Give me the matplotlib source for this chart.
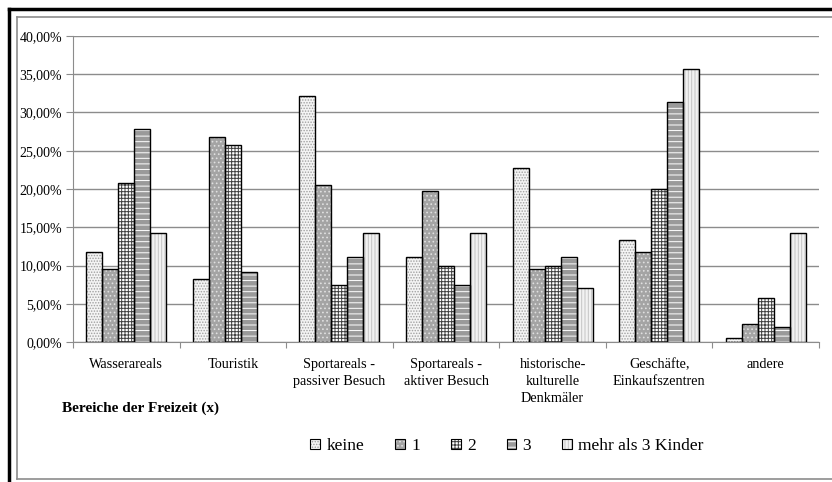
import numpy as np
import matplotlib
matplotlib.use("Agg")
import matplotlib.pyplot as plt
from matplotlib.patches import Patch
from matplotlib.lines import Line2D
from matplotlib.legend_handler import HandlerTuple
from matplotlib.ticker import FuncFormatter

plt.rcParams['font.family'] = ['Liberation Serif', 'DejaVu Serif']
plt.rcParams['hatch.linewidth'] = 0.7

categories = ["Wasserareals", "Touristik", "Sportareals -\npassiver Besuch",
              "Sportareals -\naktiver Besuch", "historische-\nkulturelle\nDenkmäler",
              "Geschäfte,\nEinkaufszentren", "andere"]
series = ["keine", "1", "2", "3", "mehr als 3 Kinder"]

keine = [11.7, 8.3, 32.2, 11.1, 22.7, 13.3, 0.5]
eins = [9.5, 26.8, 20.5, 19.7, 9.5, 11.8, 2.4]
zwei = [20.8, 25.8, 7.5, 10.0, 10.0, 20.0, 5.8]
drei = [27.8, 9.2, 11.1, 7.4, 11.1, 31.4, 1.9]
mehr = [14.3, np.nan, 14.3, 14.3, 7.1, 35.7, 14.3]
values = [keine, eins, zwei, drei, mehr]

# face colour, hatch, hatch colour
styles = [("#f4f4f4", "......", "#a0a0a0"),
          ("#a4a4a4", "....", "#e0e0e0"),
          ("#ffffff", "+++++", "#404040"),
          ("#9a9a9a", "---", "#ffffff"),
          ("#f2f2f2", "|||||", "#c4c4c4")]

fig = plt.figure(figsize=(8.32, 4.82), dpi=100)
ax = fig.add_axes([73/832, 1-342/482, (819-73)/832, (342-36)/482])

x = np.arange(len(categories))
w = 0.15
for i, vals in enumerate(values):
    fc, h, hc = styles[i]
    pos = x - 0.375 + w*(i+0.5)
    v = np.array(vals)/100
    ax.bar(pos, v, w, color=fc, edgecolor=hc, hatch=h, linewidth=0, zorder=2)
    ax.bar(pos, v, w, fill=False, edgecolor="black", linewidth=1.0, zorder=3)

ax.set_xlim(-0.5, len(categories)-0.5)
ax.set_ylim(0, 0.40)
ax.set_yticks(np.arange(0, 0.401, 0.05))
ax.yaxis.set_major_formatter(FuncFormatter(lambda v, p: f"{v*100:.2f}%".replace(".", ",")))
ax.yaxis.grid(True, color="#8c8c8c", linewidth=1.0, zorder=0)
ax.set_axisbelow(True)

ax.set_xticks(np.arange(len(categories)+1)-0.5)
ax.set_xticklabels([])
ax.set_xticks(x, minor=True)
ax.set_xticklabels(categories, minor=True, fontsize=10.3, linespacing=1.37, va="top")
ax.tick_params(axis="x", which="minor", length=0, pad=11.8)
ax.tick_params(axis="x", which="major", length=4, color="#8c8c8c")
ax.tick_params(axis="y", length=5, color="#8c8c8c", labelsize=10, pad=3)

for s in ["top", "right"]:
    ax.spines[s].set_visible(False)
ax.spines["left"].set_color("#8c8c8c")
ax.spines["bottom"].set_color("#8c8c8c")

fig.text(62/832, 1-408/482, "Bereiche der Freizeit (x)", fontsize=11, fontweight="bold",
         va="center", ha="left")

handles = []
for fc, h, hc in styles:
    handles.append((Patch(facecolor=fc, edgecolor=hc, hatch=h, linewidth=0),
                    Patch(fill=False, edgecolor="black", linewidth=0.8)))
fig.legend(handles, series, handler_map={tuple: HandlerTuple(ndivide=1)},
           loc="center", bbox_to_anchor=(507/832, 1-446/482), ncol=5, frameon=False,
           fontsize=12.5, handlelength=0.56, handleheight=0.56, handletextpad=0.35,
           columnspacing=1.8)

# frame lines
fig.add_artist(Line2D([9/832, 9/832], [0, 1-9/482], color="black", linewidth=2.5,
                      transform=fig.transFigure))
fig.add_artist(Line2D([9/832, 1], [1-9/482, 1-9/482], color="black", linewidth=2.5,
                      transform=fig.transFigure))
fig.add_artist(Line2D([17/832, 17/832], [1-479/482, 1-17/482], color="#8c8c8c", linewidth=1.2,
                      transform=fig.transFigure))
fig.add_artist(Line2D([17/832, 1], [1-17/482, 1-17/482], color="#8c8c8c", linewidth=1.2,
                      transform=fig.transFigure))
fig.add_artist(Line2D([17/832, 1], [1-479/482, 1-479/482], color="#8c8c8c", linewidth=1.2,
                      transform=fig.transFigure))

fig.savefig("out.png", dpi=100)
